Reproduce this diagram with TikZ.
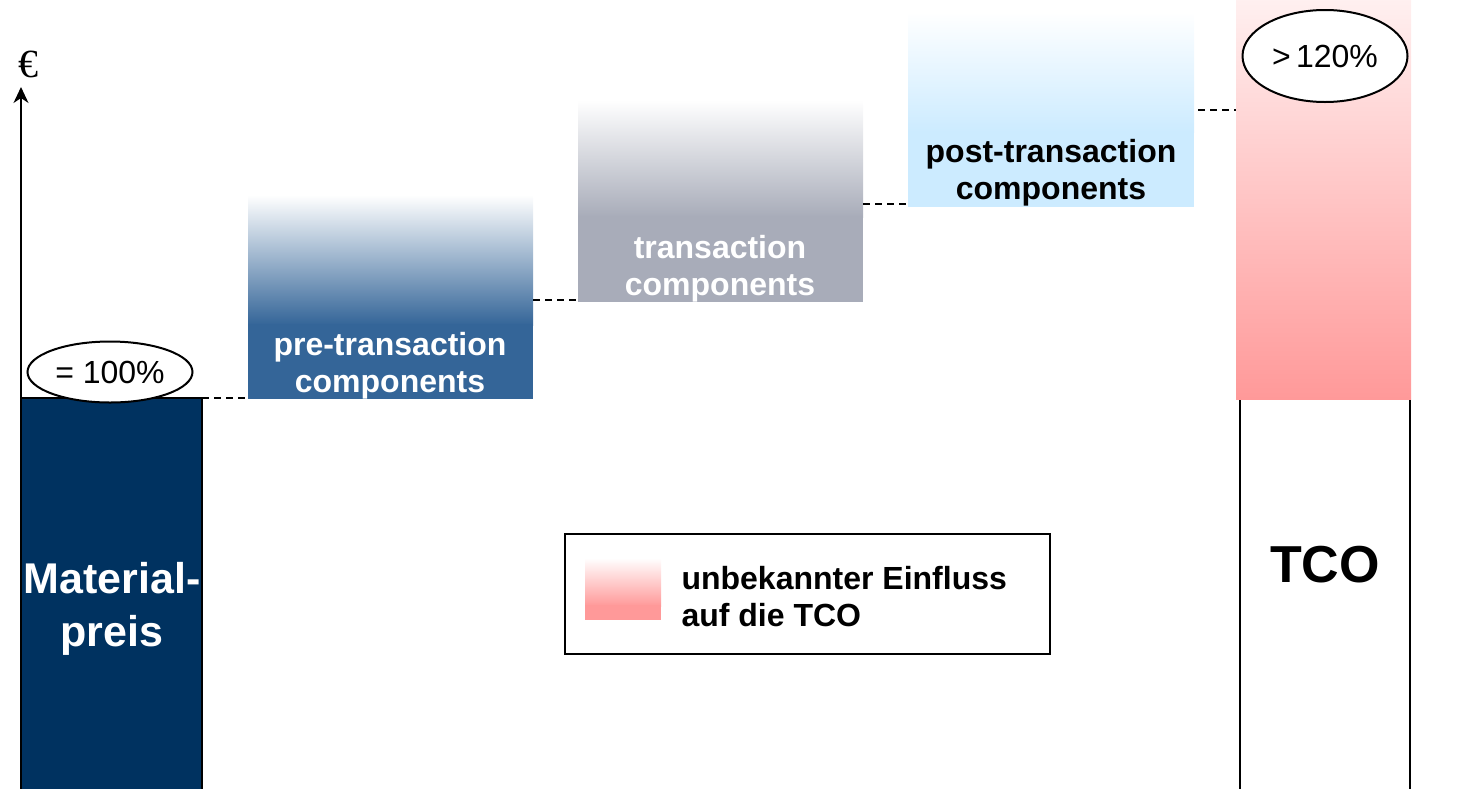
\documentclass[tikz,border=0pt]{standalone}
\usepackage{fontspec}
\setmainfont{Liberation Sans}
\newfontfamily\eurofont{Liberation Serif}
\usetikzlibrary{arrows.meta,shapes.geometric}
\definecolor{navy}{RGB}{0,50,96}
\definecolor{preblue}{RGB}{52,101,152}
\definecolor{trgray}{RGB}{168,172,185}
\definecolor{postblue}{RGB}{204,235,255}
\definecolor{tcored}{RGB}{255,153,153}
\definecolor{tcotop}{RGB}{255,240,240}
\begin{document}
\begin{tikzpicture}[x=1pt,y=-1pt,
  barbox/.style={rectangle, inner sep=0pt, outer sep=0pt, anchor=north west},
  lbl/.style={font=\fontsize{32}{37}\selectfont\bfseries, align=center, text=white},
  conn/.style={dash pattern=on 7pt off 5pt, line width=1.5pt},
  pct/.style={ellipse, draw, line width=2pt, fill=white, inner sep=0pt, font=\fontsize{32}{36}\selectfont}]
\useasboundingbox (0,0) rectangle (1464,788);

% Materialpreis bar
\node[barbox, draw, line width=1.5pt, fill=navy, minimum width=181pt, minimum height=400pt] (mat) at (21,398) {};
\node[font=\fontsize{43}{53}\selectfont\bfseries, align=center, text=white] (mattxt) at (112,609) {Material-\\preis};

% axis
\coordinate (axbot) at (21,800);
\coordinate (axtop) at (21,87);
\draw[-{Stealth[length=16pt,width=15pt,inset=5pt]}, line width=1.5pt] (axbot) -- (axtop);
\node[font=\eurofont\fontsize{40}{44}\selectfont] (euro) at (28,64) {€};

% pre-transaction
\fill[top color=white, bottom color=preblue] (248,195) rectangle (533,325);
\fill[preblue] (248,324) rectangle (533,399);
\node[barbox, minimum width=285pt, minimum height=204pt] (pre) at (248,195) {};
\node[lbl] (pretxt) at (390,366) {pre-transaction\\components};

% transaction
\fill[top color=white, bottom color=trgray] (578,100) rectangle (863,217);
\fill[trgray] (578,216) rectangle (863,302);
\node[barbox, minimum width=285pt, minimum height=202pt] (tr) at (578,100) {};
\node[lbl] (trtxt) at (720,269) {transaction\\components};

% post-transaction
\fill[top color=white, bottom color=postblue] (908,12) rectangle (1194,132);
\fill[postblue] (908,131) rectangle (1194,207);
\node[barbox, minimum width=286pt, minimum height=195pt] (post) at (908,12) {};
\node[lbl, text=black] (posttxt) at (1051,173) {post-transaction\\components};

% TCO
\node[barbox, draw, line width=1.8pt, fill=white, minimum width=170pt, minimum height=410pt] (tco) at (1240,398) {};
\fill[top color=tcotop, bottom color=tcored] (1236,-2) rectangle (1411,399);
\node[barbox, minimum width=175pt, minimum height=400pt] (tcobar) at (1236,-2) {};
\node[font=\fontsize{52}{60}\selectfont\bfseries] (tcotxt) at (1325,565) {TCO};

% percentage ellipses
\node[pct, minimum width=165pt, minimum height=61pt] (p100) at (110,372) {= 100\%};
\node[pct, minimum width=165pt, minimum height=92pt] (p120) at (1325,56) {>\,120\%};

% dashed connectors
\draw[conn] (mat.north east) -- (mat.north east -| pre.west);
\draw[conn] (pre.east |- 0,300) -- (tr.west |- 0,300);
\draw[conn] (tr.east |- 0,204) -- (post.west |- 0,204);
\coordinate (postlvl) at (1198,110);
\draw[conn] (postlvl) -- (postlvl -| tcobar.west);

% legend
\node[barbox, draw, line width=2pt, minimum width=485pt, minimum height=120pt] (leg) at (565,534) {};
\fill[top color=white, bottom color=tcored] (585,558) rectangle (661,606);
\fill[tcored] (585,605) rectangle (661,620);
\node[barbox, minimum width=76pt, minimum height=62pt] (legsq) at (585,558) {};
\node[font=\fontsize{32}{37}\selectfont\bfseries, align=left, anchor=west] (legtxt) at (678,597) {unbekannter Einfluss\\auf die TCO};
\end{tikzpicture}
\end{document}
